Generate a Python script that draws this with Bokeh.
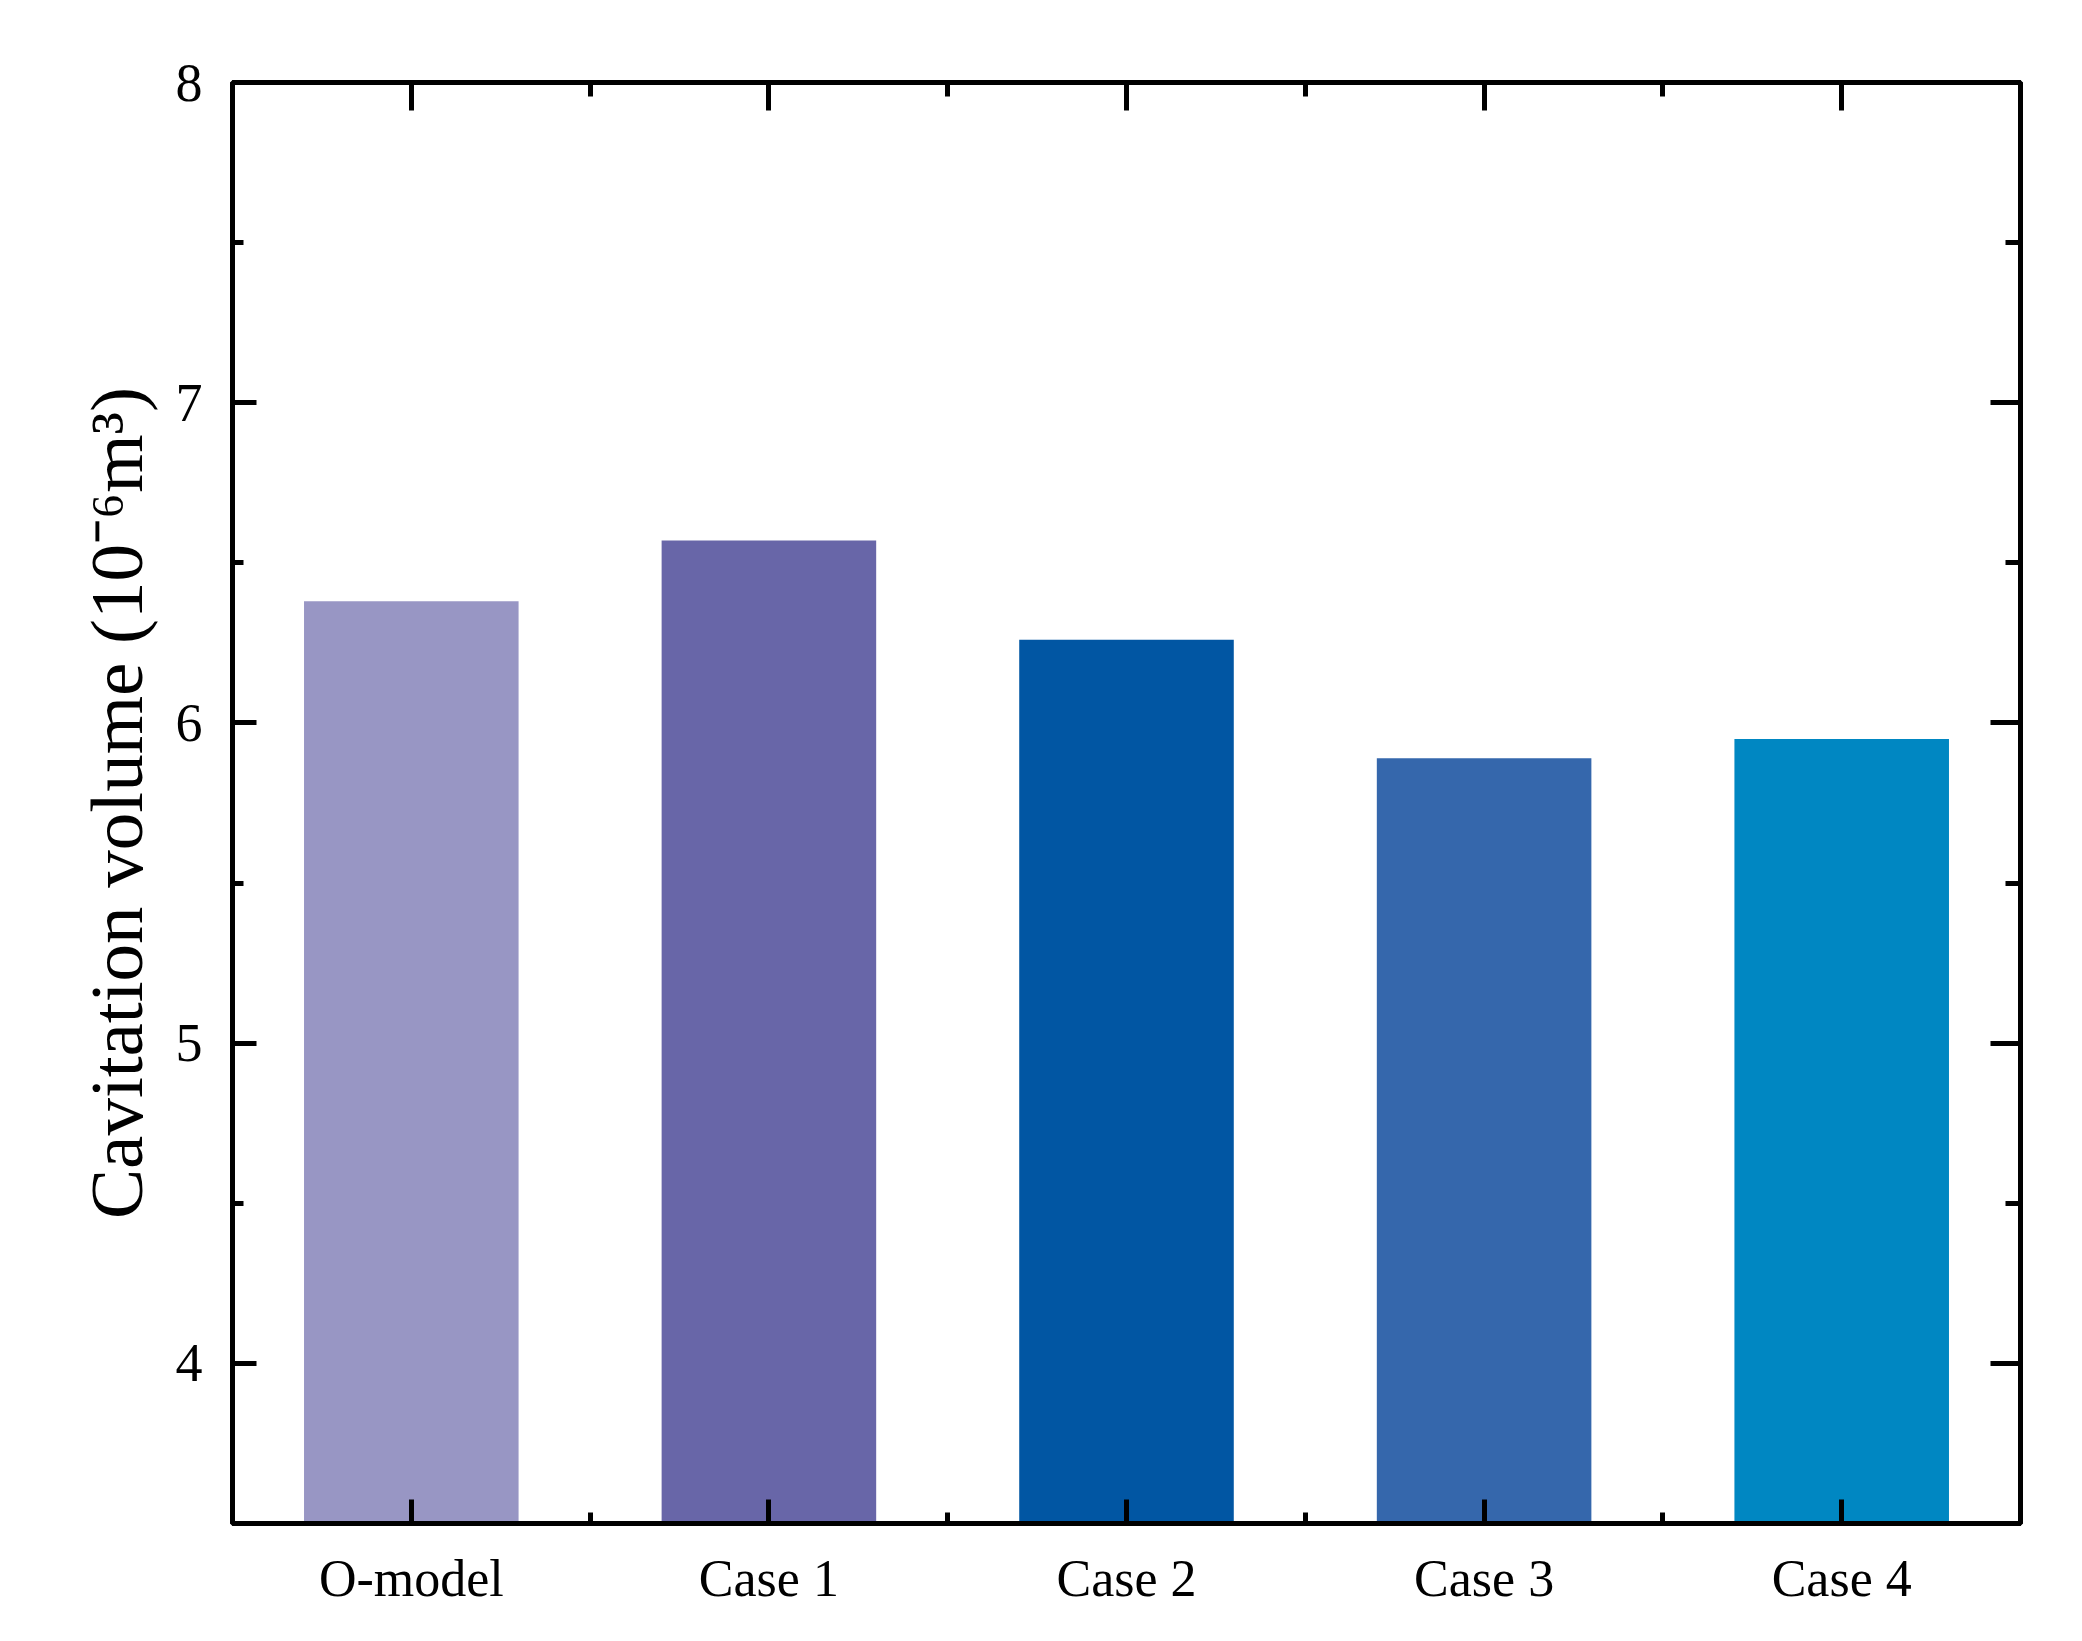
import numpy as np
from bokeh.plotting import figure
from bokeh.models import (FixedTicker, LinearAxis, CustomJSTickFormatter,
                          Range1d, ColumnDataSource)
from bokeh.embed import file_html
from bokeh.resources import INLINE

# ---- data ----
categories = ["O-model", "Case 1", "Case 2", "Case 3", "Case 4"]
values = [6.38, 6.57, 6.26, 5.89, 5.95]
colors = ["#9896C4", "#6866A8", "#0156A3", "#3567AC", "#0087C2"]
y_major_ticks = [4, 5, 6, 7, 8]
y_minor_ticks = [3.5, 4.5, 5.5, 6.5, 7.5]
y_label = "Cavitation volume (10\u207b\u2076m\u00b3)"
y_start, y_end = 3.5, 8

x_pos = list(range(len(categories)))
x_minor = [i + 0.5 for i in x_pos[:-1]]

src = ColumnDataSource(dict(x=x_pos, top=values, color=colors))

FONT = "Liberation Serif"

p = figure(width=2074, height=1633,
           x_range=Range1d(-0.5, len(categories) - 0.5),
           y_range=Range1d(y_start, y_end),
           output_backend="svg", toolbar_location=None,
           min_border_left=232, min_border_right=54,
           min_border_top=82, min_border_bottom=110,
           background_fill_color="white", border_fill_color="white")

p.vbar(x="x", top="top", bottom=y_start, width=0.6, fill_color="color",
       line_color=None, source=src)

p.xgrid.visible = False
p.ygrid.visible = False
p.outline_line_color = "black"
p.outline_line_width = 5


def style(ax, maj_in, min_in):
    ax.axis_line_width = 5
    ax.axis_line_color = "black"
    ax.major_tick_in = maj_in
    ax.major_tick_out = 0
    ax.minor_tick_in = min_in
    ax.minor_tick_out = 0
    ax.major_tick_line_width = 5
    ax.minor_tick_line_width = 5
    ax.major_tick_line_color = "black"
    ax.minor_tick_line_color = "black"


# bottom x axis
xa = p.xaxis[0]
xa.ticker = FixedTicker(ticks=x_pos, minor_ticks=x_minor)
xa.major_label_overrides = {i: c for i, c in zip(x_pos, categories)}
xa.major_label_text_font = FONT
xa.major_label_text_font_size = "52px"
xa.major_label_text_color = "black"
xa.major_label_standoff = 26
style(xa, 24, 11)

# left y axis
ya = p.yaxis[0]
ya.ticker = FixedTicker(ticks=y_major_ticks, minor_ticks=y_minor_ticks)
ya.major_label_text_font = FONT
ya.major_label_text_font_size = "54px"
ya.major_label_text_color = "black"
ya.major_label_standoff = 30
ya.axis_label = y_label
ya.axis_label_text_font = FONT
ya.axis_label_text_font_size = "75px"
ya.axis_label_text_font_style = "normal"
ya.axis_label_text_color = "black"
ya.axis_label_standoff = 15
style(ya, 24, 11)

blank = CustomJSTickFormatter(code="return ''")

top_ax = LinearAxis(ticker=FixedTicker(ticks=x_pos, minor_ticks=x_minor),
                    formatter=blank, major_label_standoff=0)
style(top_ax, 28, 14)
p.add_layout(top_ax, "above")

right_ax = LinearAxis(ticker=FixedTicker(ticks=y_major_ticks, minor_ticks=y_minor_ticks),
                      formatter=blank, major_label_standoff=0)
style(right_ax, 30, 15)
p.add_layout(right_ax, "right")

open("out.html", "w").write(file_html(p, INLINE))
